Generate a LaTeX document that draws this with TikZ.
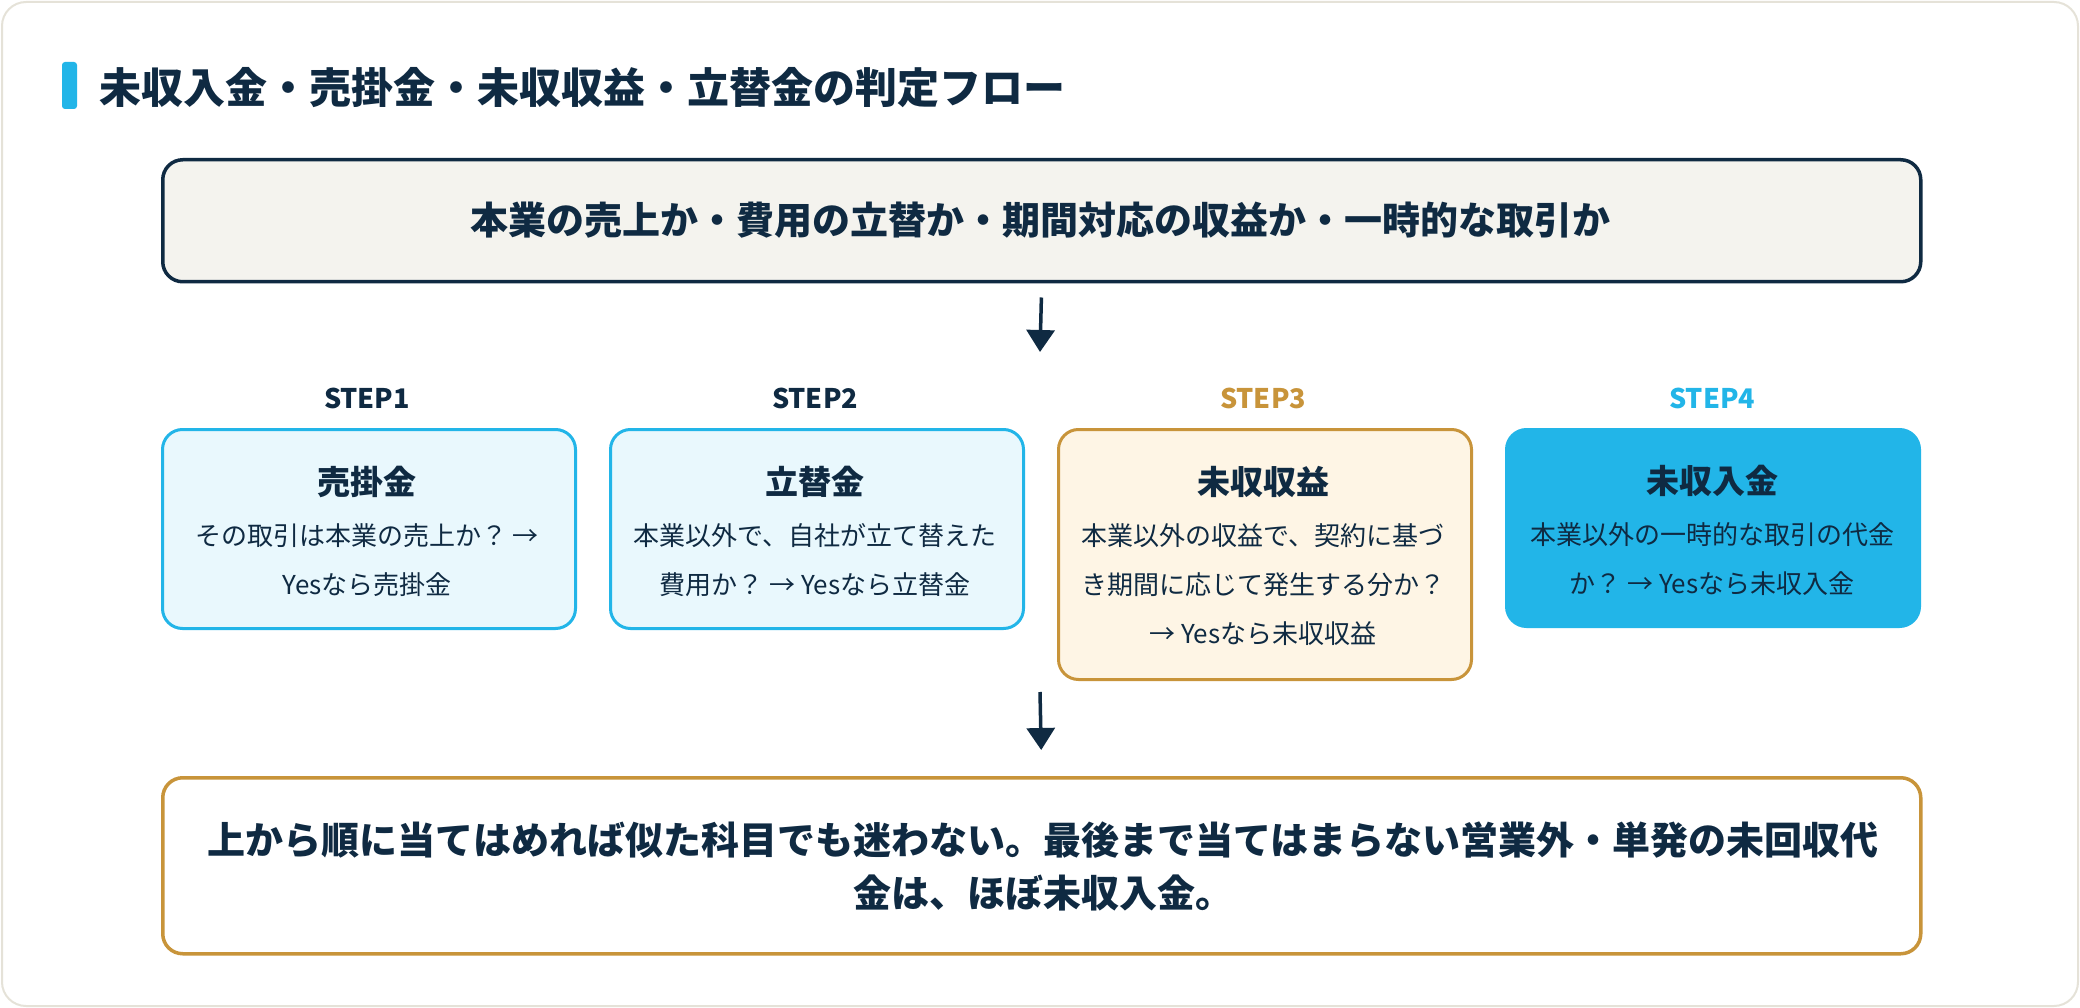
\documentclass[tikz,border=0pt]{standalone}
\usepackage{fontspec}
\setmainfont{Noto Sans CJK JP}
\usetikzlibrary{arrows.meta}
\definecolor{navy}{HTML}{0F2A42}
\definecolor{cyanc}{HTML}{22B5E8}
\definecolor{cyanfill}{HTML}{E9F8FD}
\definecolor{gold}{HTML}{C8943A}
\definecolor{goldfill}{HTML}{FEF5E5}
\definecolor{topfill}{HTML}{F4F3EE}
\definecolor{outline}{HTML}{E5E2D8}
\newcommand\setfs[2]{\fontsize{#1}{#2}\selectfont}
\begin{document}
\begin{tikzpicture}[x=1pt,y=-1pt,
  bigbox/.style={draw, rounded corners=20pt, inner sep=0pt, anchor=north west},
  stepbox/.style={draw, rounded corners=20pt, inner sep=0pt, line width=3pt, anchor=north west, minimum width=413pt},
  blue box/.style={stepbox, draw=cyanc, fill=cyanfill},
  gold box/.style={stepbox, draw=gold, fill=goldfill},
  solid box/.style={stepbox, draw=cyanc, fill=cyanc},
  steplabel/.style={font=\setfs{27}{31}\bfseries, inner sep=0pt},
  boxtitle/.style={font=\setfs{33}{38}\bfseries, text=navy, inner sep=0pt},
  boxbody/.style={font=\setfs{26}{49}, text=navy, align=center, inner sep=0pt},
  flowarrow/.style={draw=navy, line width=3.5pt, -{Triangle[length=22pt,width=28pt]}}
]
\useasboundingbox (0,0) rectangle (2080,1008);
\draw[draw=outline, line width=2pt, fill=white, rounded corners=24pt] (2,2) rectangle (2078,1006);

% title
\fill[cyanc, rounded corners=3pt] (62,62) rectangle (77,109);
\node[anchor=west, inner sep=0pt, font=\setfs{42}{48}\bfseries, text=navy] (title) at (99,88) {未収入金・売掛金・未収収益・立替金の判定フロー};

% top box
\node[bigbox, draw=navy, fill=topfill, line width=3.5pt, minimum width=1758pt, minimum height=122pt] (top) at (161,158) {};
\node[inner sep=0pt, font=\setfs{38}{44}\bfseries, text=navy] (toptext) at (1040,220) {本業の売上か・費用の立替か・期間対応の収益か・一時的な取引か};

\coordinate (a1e) at (1040,352);
\draw[flowarrow, shorten <=14pt] (top.south) -- (a1e);

% step labels
\node[steplabel, text=navy] (s1) at (367,398) {STEP1};
\node[steplabel, text=navy] (s2) at (815,398) {STEP2};
\node[steplabel, text=gold] (s3) at (1263,398) {STEP3};
\node[steplabel, text=cyanc] (s4) at (1712,398) {STEP4};

% step boxes
\node[blue box, minimum height=199pt] (b1) at (161,428) {};
\node[blue box, minimum height=199pt] (b2) at (609,428) {};
\node[gold box, minimum height=250pt] (b3) at (1057,428) {};
\node[solid box, minimum height=197pt] (b4) at (1505,428) {};

\node[boxtitle] (t1) at (367,482) {売掛金};
\node[boxtitle] (t2) at (815,482) {立替金};
\node[boxtitle] (t3) at (1263,482) {未収収益};
\node[boxtitle] (t4) at (1712,481) {未収入金};

\node[boxbody] (d1) at (367,560) {その取引は本業の売上か？ →\\Yesなら売掛金};
\node[boxbody] (d2) at (815,560) {本業以外で、自社が立て替えた\\費用か？ → Yesなら立替金};
\node[boxbody] (d3) at (1263,585) {本業以外の収益で、契約に基づ\\き期間に応じて発生する分か？\\→ Yesなら未収収益};
\node[boxbody] (d4) at (1712,559) {本業以外の一時的な取引の代金\\か？ → Yesなら未収入金};

% bottom box
\node[bigbox, draw=gold, fill=white, line width=3.5pt, minimum width=1758pt, minimum height=176pt] (bottom) at (161,776) {};
\node[inner sep=0pt, align=center, font=\setfs{38}{53}\bfseries, text=navy] (bottomtext) at (1043,866) {上から順に当てはめれば似た科目でも迷わない。最後まで当てはまらない営業外・単発の未回収代\\金は、ほぼ未収入金。};

\coordinate (a2s) at (1040,692);
\draw[flowarrow, shorten >=26pt] (a2s) -- (bottom.north);
\end{tikzpicture}
\end{document}
